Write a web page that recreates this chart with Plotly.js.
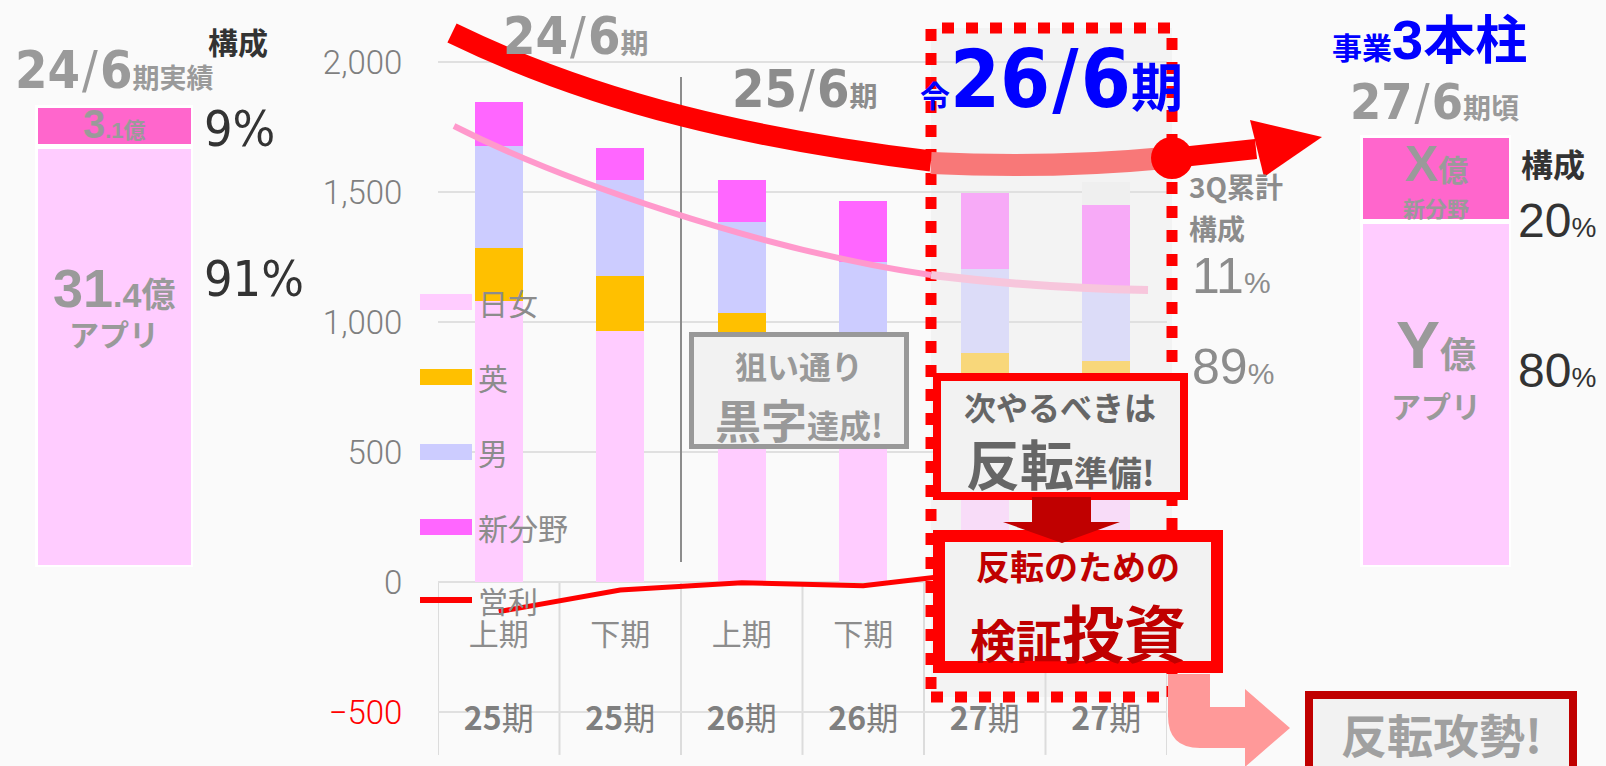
<!DOCTYPE html>
<html><head><meta charset="utf-8">
<script src="https://cdn.plot.ly/plotly-3.0.1.min.js"></script>
<style>html,body{margin:0;padding:0;background:#fafafa;overflow:hidden}</style>
</head><body><div id="chart" style="width:1606px;height:766px"></div>
<script>
// ---------------- data ----------------
const periods   = ['25期','25期','26期','26期','27期','27期'];
const halves    = ['上期','下期','上期','下期','上期','下期'];
const nichijo   = [1080, 965, 940, 860, 770, 740];   // 日女
const ei        = [205, 210, 95, 80, 112, 111];      // 英
const dan       = [390, 370, 350, 292, 322, 287];    // 男
const shinbunya = [170, 125, 160, 235, 291, 312];    // 新分野
const mikomi    = [0, 0, 0, 0, 0, 88];               // 見込(残り)
const eiri      = [-114, -31, -3, -14, 40, 90];      // 営利
const yTicks    = [-500, 0, 500, 1000, 1500, 2000];
const leftLabels  = ['アプリ', '新分野'];
const leftValues  = [31.4, 3.1];     // 24/6期実績 (億)
const rightLabels = ['アプリ', '新分野'];
const rightValues = [80, 20];        // 27/6期頃 構成 (%)

// ---------------- helpers ----------------
const W = 1606, H = 766;
const X = v => v / W, Y = v => 1 - v / H;
const pp = s => s.replace(/(-?\d+(?:\.\d+)?)\s+(-?\d+(?:\.\d+)?)/g,
  (m, a, b) => X(+a).toFixed(5) + ',' + Y(+b).toFixed(5));
const NAR  = "'Liberation Sans Narrow','DejaVu Sans Condensed','Noto Sans CJK JP',sans-serif";
const SANS = "'Liberation Sans','Noto Sans CJK JP',sans-serif";
const CJK  = "'Noto Sans CJK JP','Noto Sans',sans-serif";
const sp = (t, size, style = '') => `<span style="font-size:${size}px;${style}">${t}</span>`;
const cats = periods.map((p, i) => p + halves[i]);
const shade = (base, light) => cats.map((c, i) => periods[i] === '27期' ? light : base);

// ---------------- traces ----------------
const barW = cats.map(() => 0.395);
const traces = [
  {type:'bar', name:'日女', x:cats, y:nichijo, width:barW, marker:{color:shade('#ffccff','#f8dcf8'), line:{width:0}}},
  {type:'bar', name:'英', x:cats, y:ei, width:barW, marker:{color:shade('#ffc000','#f8d77a'), line:{width:0}}},
  {type:'bar', name:'男', x:cats, y:dan, width:barW, marker:{color:shade('#ccccff','#dcdcf8'), line:{width:0}}},
  {type:'bar', name:'新分野', x:cats, y:shinbunya, width:barW, marker:{color:shade('#ff66ff','#f7aaf7'), line:{width:0}}},
  {type:'bar', name:'見込', x:cats, y:mikomi, width:barW, marker:{color:'#efefef', line:{width:0}}},
  {type:'scatter', mode:'lines', name:'営利', x:cats, y:eiri, line:{color:'#ff0000', width:5}},
  // left panel 24/6期実績
  {type:'bar', name:leftLabels[0], x:['24/6期実績'], y:[leftValues[0]], width:[1], xaxis:'x3', yaxis:'y3',
   marker:{color:'#ffccff', line:{color:'#ffffff', width:5}}},
  {type:'bar', name:leftLabels[1], x:['24/6期実績'], y:[leftValues[1]], width:[1], xaxis:'x3', yaxis:'y3',
   marker:{color:'#ff66cc', line:{color:'#ffffff', width:5}}},
  // right panel 27/6期頃
  {type:'bar', name:rightLabels[0], x:['27/6期頃'], y:[rightValues[0]], width:[1], xaxis:'x4', yaxis:'y4',
   marker:{color:'#ffccff', line:{color:'#ffffff', width:5}}},
  {type:'bar', name:rightLabels[1], x:['27/6期頃'], y:[rightValues[1]], width:[1], xaxis:'x4', yaxis:'y4',
   marker:{color:'#ff66cc', line:{color:'#ffffff', width:5}}}
];

// ---------------- shapes ----------------
const rectP = (x0, y0, x1, y1, o) => Object.assign({type:'rect', xref:'paper', yref:'paper',
  x0:X(x0), x1:X(x1), y0:Y(y1), y1:Y(y0), layer:'above'}, o);
const pathP = (d, o) => Object.assign({type:'path', xref:'paper', yref:'paper', path:pp(d), layer:'above'}, o);
const shapes = [];
shapes.push(rectP(931, 28, 1172, 697, {fillcolor:'#f3f3f3', line:{width:0}, layer:'below'}));
for (let i = 0; i <= cats.length; i++) {
  shapes.push({type:'line', xref:'x', yref:'y', x0:i - 0.5, x1:i - 0.5, y0:0, y1:-665,
    line:{color:'#dcdcdc', width:2}, layer:'below'});
}
shapes.push({type:'line', xref:'x', yref:'y', x0:1.5, x1:1.5, y0:77, y1:1942, line:{color:'#8c8c8c', width:2}, layer:'above'});
shapes.push(rectP(931, 28, 1172, 697, {fillcolor:'rgba(0,0,0,0)', line:{color:'#ff0000', width:11, dash:'12px,12px'}}));
shapes.push(pathP('M 454 126 C 560 180 760 250 931 275', {line:{color:'#ff99cc', width:6}}));
shapes.push(pathP('M 931 275 Q 1040 288 1148 290', {line:{color:'#f7c6dc', width:8}}));
shapes.push(pathP('M 452 33 C 600 105 760 140 931 161', {line:{color:'#ff0000', width:21}}));
shapes.push(pathP('M 931 163 Q 1050 169 1165 158', {line:{color:'#f87878', width:22}}));
shapes.push({type:'circle', xref:'paper', yref:'paper', x0:X(1151), x1:X(1193), y0:Y(179), y1:Y(137),
  fillcolor:'#ff0000', line:{width:0}, layer:'above'});
shapes.push(pathP('M 1172 158 L 1256 149', {line:{color:'#ff0000', width:20}}));
shapes.push(pathP('M 1250 120 L 1322 137 L 1264 177 Z', {fillcolor:'#ff0000', line:{width:0}}));
shapes.push(rectP(691.5, 334.5, 906.5, 446.5, {fillcolor:'#f2f2f2', line:{color:'#999999', width:5}}));
shapes.push(rectP(937, 377, 1184, 496, {fillcolor:'#f2f2f2', line:{color:'#ff0000', width:8}}));
shapes.push(rectP(939, 536, 1217, 667, {fillcolor:'#f2f2f2', line:{color:'#ff0000', width:12}}));
shapes.push(pathP('M 1032 497 L 1091 497 L 1091 522 L 1120 522 L 1062 543 L 1003 522 L 1032 522 Z',
  {fillcolor:'#c00000', line:{width:0}}));
shapes.push(pathP('M 1168 674 L 1210 674 L 1210 707 L 1245 707 L 1245 689 L 1290 728 L 1245 767 L 1245 748 L 1200 748 Q 1168 748 1168 716 Z',
  {fillcolor:'#ff9999', line:{width:0}}));
shapes.push(rectP(1309, 695, 1573, 775, {fillcolor:'#f2f2f2', line:{color:'#c00000', width:8}}));
const legendItems = [['日女', '#ffccff', 302], ['英', '#ffc000', 377], ['男', '#ccccff', 452], ['新分野', '#ff66ff', 527]];
legendItems.forEach(([n, c, yy]) => shapes.push(rectP(420, yy - 8, 472, yy + 8, {fillcolor:c, line:{width:0}})));
shapes.push(pathP('M 420 600 L 472 600', {line:{color:'#ff0000', width:6}}));

// ---------------- annotations ----------------
const A = (x, y, text, size, color, o = {}) => Object.assign({xref:'paper', yref:'paper', x:X(x), y:Y(y),
  text, showarrow:false, xanchor:'center', yanchor:'middle',
  font:{family:o.family || CJK, size, color, weight:o.weight || 'normal'}}, o.extra || {});
const L = {xanchor:'left'};
const slash = (s) => sp('\u00a0', 7) + sp('/', s) + sp('\u00a0', 7);
const date = (a, b, s, tail, ts) => sp(a, s, 'font-weight:bold') + slash(s) + sp(b, s, 'font-weight:bold') +
  sp(tail, ts, "font-weight:bold;font-family:'Noto Sans CJK JP'");
const ann = [
  // left panel
  A(13, 70, date('24', '6', 52, '期実績', 27), 52, '#9a9a9a', {family:NAR, extra:L}),
  A(238, 41, '構成', 30, '#333333', {weight:'bold'}),
  A(114, 124, sp('3', 40) + sp('.1億', 22), 40, '#9a9a9a', {family:SANS, weight:'bold'}),
  A(114, 288, sp('31', 54) + sp('.4億', 34), 54, '#9a9a9a', {family:SANS, weight:'bold'}),
  A(114, 333, 'アプリ', 30, '#9a9a9a', {weight:'bold'}),
  A(202, 129, '9%', 50, '#333333', {family:NAR, extra:L}),
  A(202, 279, '91%', 50, '#333333', {family:NAR, extra:L}),
  // period titles
  A(501, 36, date('24', '6', 52, '期', 28), 52, '#999999', {family:NAR, extra:L}),
  A(730, 89, date('25', '6', 52, '期', 28), 52, '#8c8c8c', {family:NAR, extra:L}),
  A(918, 80, sp('令', 30) + sp('26', 80) + slash(80) + sp('6', 80) + sp('期', 52), 80, '#0000ff', {family:NAR, weight:'bold', extra:L}),
  A(1187, 186, '3Q累計', 28, '#8c8c8c', {weight:'bold', extra:L}),
  A(1187, 228, '構成', 28, '#8c8c8c', {weight:'bold', extra:L}),
  A(1190, 276, sp('11', 50) + sp('%', 30), 50, '#8c8c8c', {family:SANS, extra:L}),
  A(1190, 367, sp('89', 50) + sp('%', 30), 50, '#8c8c8c', {family:SANS, extra:L}),
  // right panel
  A(1330, 37, sp('事業', 30) + sp('3', 56, "font-family:'Liberation Sans'") + sp('本柱', 52), 52, '#0000ff', {weight:'bold', extra:L}),
  A(1348, 102, date('27', '6', 50, '期頃', 28), 50, '#9a9a9a', {family:NAR, extra:L}),
  A(1436, 164, sp('X', 50, "font-family:'Liberation Sans'") + sp('億', 30), 50, '#9a9a9a', {weight:'bold'}),
  A(1436, 207, '新分野', 22, '#9a9a9a', {weight:'bold'}),
  A(1436, 345, sp('Y', 66, "font-family:'Liberation Sans'") + sp('億', 36), 66, '#9a9a9a', {weight:'bold'}),
  A(1436, 405, 'アプリ', 30, '#9a9a9a', {weight:'bold'}),
  A(1519, 163, '構成', 32, '#333333', {weight:'bold', extra:L}),
  A(1516, 221, sp('20', 48) + sp('%', 28), 48, '#333333', {family:SANS, extra:L}),
  A(1516, 370, sp('80', 48) + sp('%', 28), 48, '#333333', {family:SANS, extra:L}),
  // message boxes
  A(799, 365, '狙い通り', 32, '#999999', {weight:'bold'}),
  A(799, 418, sp('黒字', 46) + sp('達成!', 32), 46, '#999999', {weight:'bold'}),
  A(1060, 406, '次やるべきは', 32, '#666666', {weight:'bold'}),
  A(1060, 462, sp('反転', 54) + sp('準備!', 34), 54, '#666666', {weight:'bold'}),
  A(1078, 565, '反転のための', 34, '#c00000', {weight:'bold'}),
  A(1078, 631, sp('検証', 46) + sp('投資', 62), 62, '#c00000', {weight:'bold'}),
  A(1441, 733, '反転攻勢!', 46, '#a0a0a0', {weight:'bold'})
];
legendItems.forEach(([n, c, yy]) => ann.push(A(476, yy, n, 30, '#8c8c8c', {extra:L})));
ann.push(A(476, 600, '営利', 30, '#8c8c8c', {extra:L}));

// ---------------- layout ----------------
// the 上期/下期 labels of 27期 sit under the message box in the original, so they are left blank
const tickText = cats.map((c, i) => (periods[i] === '27期' ? '\u00a0' : sp(halves[i], 30)) + '<br><br>' +
  sp('<b>' + periods[i].replace('期', '') + '</b>期', 32,
     "font-family:'Liberation Sans Narrow','Noto Sans CJK JP';fill:#7f7f7f"));
const layout = {
  width:W, height:H, margin:{l:0, r:0, t:0, b:0, pad:0},
  paper_bgcolor:'#fafafa', plot_bgcolor:'rgba(0,0,0,0)',
  barmode:'stack', showlegend:false, hovermode:false,
  font:{family:CJK},
  xaxis:{domain:[X(438), X(1167)], type:'category', categoryorder:'array', categoryarray:cats,
    range:[-0.5, 5.5], tickmode:'array', tickvals:cats, ticktext:tickText,
    anchor:'free', position:Y(582), showgrid:false, showline:false, zeroline:false,
    ticks:'outside', ticklen:23, tickcolor:'rgba(0,0,0,0)',
    tickfont:{family:CJK, size:32.5, color:'#8c8c8c'}, fixedrange:true},
  yaxis:{domain:[Y(755), Y(20)], range:[-665.4, 2161.5], tickmode:'array', tickvals:yTicks,
    ticktext:yTicks.map(v => v < 0 ? `<span style="color:#ff0000">\u2212${Math.abs(v)}</span>` : v.toLocaleString('en-US')),
    showline:false, zeroline:false, gridcolor:'#e0e0e0', gridwidth:2,
    ticks:'outside', ticklen:28, tickcolor:'rgba(0,0,0,0)',
    tickfont:{family:"Roboto,'Liberation Sans',sans-serif", size:33, color:'#7f7f7f', weight:300}, fixedrange:true},
  xaxis3:{domain:[X(35), X(193)], range:[-0.5, 0.5], visible:false, anchor:'y3', fixedrange:true},
  yaxis3:{domain:[Y(567), Y(105)], range:[0, 34.5], visible:false, anchor:'x3', fixedrange:true},
  xaxis4:{domain:[X(1360), X(1511)], range:[-0.5, 0.5], visible:false, anchor:'y4', fixedrange:true},
  yaxis4:{domain:[Y(567), Y(135)], range:[0, 100], visible:false, anchor:'x4', fixedrange:true},
  shapes, annotations:ann
};
Plotly.newPlot('chart', traces, layout, {staticPlot:true, displayModeBar:false});
</script></body></html>
